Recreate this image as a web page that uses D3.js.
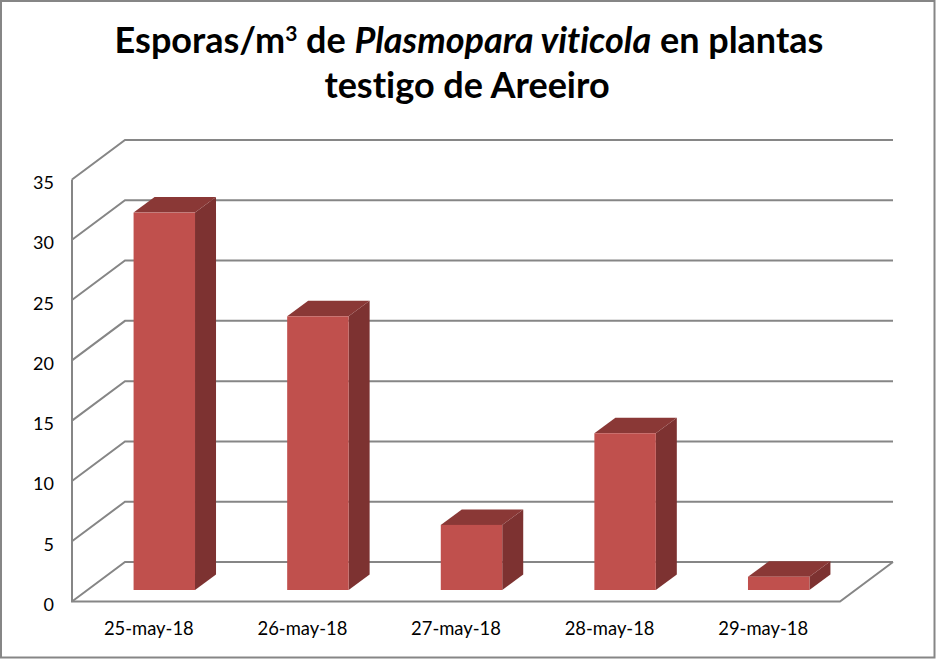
<!DOCTYPE html>
<html><head><meta charset="utf-8">
<script src="https://cdn.jsdelivr.net/npm/d3@7"></script>
<style>html,body{margin:0;padding:0;background:#fff}svg{display:block}text{font-family:Lato,"Open Sans",sans-serif;fill:#000;font-variant-ligatures:none}</style>
</head><body><svg id="c" width="936" height="659"></svg>
<script>
const categories=["25-may-18","26-may-18","27-may-18","28-may-18","29-may-18"];
const values=[31.3,22.7,5.4,13,1.1];
const tickValues=[0,5,10,15,20,25,30,35];
const titleLine2="testigo de Areeiro";

const svg=d3.select("#c");
const W=936,H=659;
svg.append("rect").attr("x",1).attr("y",1).attr("width",W-2.5).attr("height",H-2.5)
  .attr("fill","#fff").attr("stroke","#868686").attr("stroke-width",2);

const x=d3.scaleBand().domain(categories).range([72,840]).paddingInner(0.6).paddingOuter(0.3);
const y=d3.scaleLinear().domain([0,35]).range([601.5,179.5]);
const wall={dx:53,dy:-39.5};
const depth={dx:21,dy:-15.5};
const gap={dx:15.5,dy:-11.5};

const grid=svg.append("g").attr("fill","none").attr("stroke","#868686").attr("stroke-width",2);
grid.selectAll("path.g").data(tickValues).join("path").attr("class","g")
  .attr("d",d=>`M${x.range()[0]},${y(d)}L${x.range()[0]+wall.dx},${y(d)+wall.dy}L${x.range()[1]+wall.dx},${y(d)+wall.dy}`);
grid.append("path").attr("d",`M${x.range()[0]},${y(35)}V${y(0)}H${x.range()[1]}l${wall.dx},${wall.dy}`);

const bars=svg.append("g").selectAll("g").data(categories.map((c,i)=>({c,v:values[i]}))).join("g")
  .attr("transform",`translate(${gap.dx},${gap.dy})`);
const bw=x.bandwidth();
bars.append("path").attr("fill","#7D3231").attr("d",d=>{
  const r=x(d.c)+bw;return `M${r},${y(d.v)}l${depth.dx},${depth.dy}V${y(0)+depth.dy}l${-depth.dx},${-depth.dy}Z`;});
bars.append("path").attr("fill","#8A3836").attr("d",d=>{
  const l=x(d.c);return `M${l},${y(d.v)}l${depth.dx},${depth.dy}h${bw}l${-depth.dx},${-depth.dy}Z`;});
bars.append("rect").attr("fill","#C0504D").attr("x",d=>x(d.c)).attr("y",d=>y(d.v))
  .attr("width",bw).attr("height",d=>y(0)-y(d.v));

const yAxis=svg.append("g").attr("transform","translate(72,0)")
  .call(d3.axisLeft(y).tickValues(tickValues).tickSize(0).tickPadding(18));
yAxis.select(".domain").remove();
yAxis.selectAll("text").attr("font-size",18).attr("dy","0.5em").style("font-family","Lato,sans-serif");

const xAxis=svg.append("g").attr("transform","translate(0,601)")
  .call(d3.axisBottom(x).tickSize(0).tickPadding(20.5));
xAxis.select(".domain").remove();
xAxis.selectAll("text").attr("font-size",18.4).style("font-family","Lato,sans-serif");

const t=svg.append("text").attr("text-anchor","middle").attr("font-size",36).attr("font-weight",700);
const l1=t.append("tspan").attr("x",469).attr("y",53);
l1.append("tspan").text("Esporas/m");
l1.append("tspan").attr("font-size",21).attr("dy",-12).text("3");
l1.append("tspan").attr("dy",12).text(" de ");
l1.append("tspan").attr("font-style","italic").text("Plasmopara viticola");
l1.append("tspan").text(" en plantas");
t.append("tspan").attr("x",467).attr("y",98).text(titleLine2);
</script></body></html>
